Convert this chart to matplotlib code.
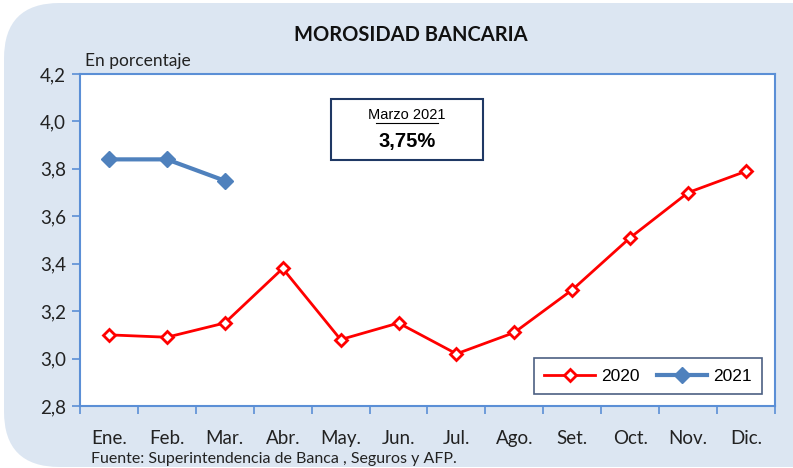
import matplotlib
matplotlib.use("Agg")
import matplotlib.pyplot as plt
from matplotlib.patches import FancyBboxPatch
from matplotlib.ticker import FixedLocator, NullFormatter

months = ["Ene.", "Feb.", "Mar.", "Abr.", "May.", "Jun.", "Jul.", "Ago.", "Set.", "Oct.", "Nov.", "Dic."]
vals_2020 = [3.10, 3.09, 3.15, 3.38, 3.08, 3.15, 3.02, 3.11, 3.29, 3.51, 3.70, 3.79]
vals_2021 = [3.84, 3.84, 3.75]
yticks = [2.8, 3.0, 3.2, 3.4, 3.6, 3.8, 4.0, 4.2]
ytick_labels = ["2,8", "3,0", "3,2", "3,4", "3,6", "3,8", "4,0", "4,2"]

W, H = 793, 468
fig = plt.figure(figsize=(W / 100, H / 100), dpi=100)
fig.patch.set_facecolor("white")

bg = FancyBboxPatch((4 / W, 1 / H), (W + 60) / W, (H - 4) / H,
                    boxstyle="round,pad=0,rounding_size=0.07",
                    transform=fig.transFigure, facecolor="#dce6f2",
                    edgecolor="none", zorder=-10,
                    mutation_aspect=W / H)
fig.patches.append(bg)

ax = fig.add_axes([80 / W, 1 - 406 / H, (775 - 80) / W, (406 - 74) / H])
ax.set_facecolor("white")
for s in ax.spines.values():
    s.set_color("#5b8fd6")
    s.set_linewidth(1.5)

x = list(range(len(months)))
ax.plot(x, vals_2020, color="#ff0000", lw=2, marker="D", ms=6,
        mfc="white", mec="#ff0000", mew=2, label="2020", zorder=3)
ax.plot(x[:len(vals_2021)], vals_2021, color="#4f81bd", lw=3, marker="D", ms=8,
        mfc="#4f81bd", mec="#4f81bd", label="2021", zorder=3)

ax.set_xlim(-0.5, 11.5)
ax.set_ylim(2.8, 4.2)
ax.set_yticks(yticks)
ax.set_yticklabels(ytick_labels, fontsize=13.5, family="Lato", color="#222222")
ax.xaxis.set_major_locator(FixedLocator([i - 0.5 for i in range(13)]))
ax.xaxis.set_major_formatter(NullFormatter())
ax.xaxis.set_minor_locator(FixedLocator(x))
ax.set_xticklabels(months, minor=True, fontsize=13.5, family="Lato", color="#222222")
ax.tick_params(axis="x", which="major", length=6, color="#5b8fd6", width=1.2, direction="out")
ax.tick_params(axis="x", which="minor", length=0, pad=17)
ax.tick_params(axis="y", length=6, color="#5b8fd6", width=1.2, direction="out", pad=4)

leg = ax.legend(loc="lower right", bbox_to_anchor=(0.994, 0.01), ncol=2, frameon=True,
                fancybox=False, fontsize=12.5, handlelength=2.9, columnspacing=1.0,
                borderpad=0.6, handletextpad=0.35)
leg.get_frame().set_edgecolor("#1f3864")
leg.get_frame().set_linewidth(1.2)
for t in leg.get_texts():
    t.set_family("Liberation Sans")

# annotation box
box = FancyBboxPatch((331 / W, 1 - 160 / H), (483 - 331) / W, (160 - 99) / H,
                     boxstyle="square,pad=0", transform=fig.transFigure,
                     facecolor="white", edgecolor="#1f3864", lw=1.5, zorder=5)
fig.patches.append(box)
fig.text(407 / W, 1 - 115 / H, "Marzo 2021", ha="center", va="center",
         fontsize=10.5, family="Liberation Sans", zorder=6)
fig.add_artist(plt.Line2D([376 / W, 438 / W], [1 - 123 / H, 1 - 123 / H],
                          transform=fig.transFigure, color="black", lw=0.8, zorder=6))
fig.text(407 / W, 1 - 142 / H, "3,75%", ha="center", va="center",
         fontsize=14.5, fontweight="bold", family="Liberation Sans", zorder=6)

fig.text(411 / W, 1 - 35 / H, "MOROSIDAD BANCARIA", ha="center", va="center",
         fontsize=14.5, fontweight="bold", family="Lato", color="#111111")
fig.text(85 / W, 1 - 61 / H, "En porcentaje", ha="left", va="center",
         fontsize=12.5, family="Lato", color="#222222")
fig.text(91 / W, 1 - 459 / H, "Fuente: Superintendencia de Banca , Seguros y AFP.",
         ha="left", va="center", fontsize=11.5, family="Lato", color="#222222")

fig.savefig("out.png", dpi=100, facecolor=fig.get_facecolor())
